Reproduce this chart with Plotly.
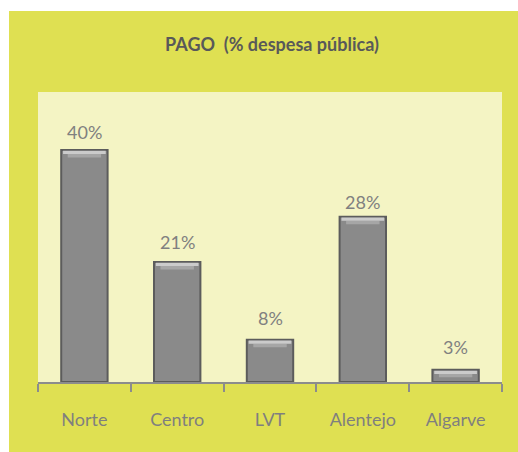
import plotly.graph_objects as go

categories = ["Norte", "Centro", "LVT", "Alentejo", "Algarve"]
label_values = [40, 21, 8, 28, 3]          # data labels (%)
bar_values = [40, 20.7, 7.3, 28.5, 2.1]   # bar heights as drawn in the picture (%)
title_text = "PAGO  (% despesa pública)"

fig = go.Figure()
fig.add_trace(go.Bar(
    x=categories, y=bar_values,
    marker=dict(color="#8a8a8a", line=dict(color="#5c5c5c", width=2)),
    hoverinfo="skip",
))
# bevel highlight on bar tops
fig.add_trace(go.Bar(
    x=categories, y=[0.6] * len(bar_values), base=[v - 1.3 for v in bar_values],
    marker=dict(color="#a6a6a6", line=dict(width=0)),
    width=0.36, hoverinfo="skip",
))
fig.add_trace(go.Bar(
    x=categories, y=[0.55] * len(bar_values), base=[v - 0.7 for v in bar_values],
    marker=dict(color="#cbcbcb", line=dict(width=0)),
    width=0.46, hoverinfo="skip",
))
for c, v in zip(categories, label_values):
    fig.add_annotation(x=c, y=v, text=f"{v}%", showarrow=False, yanchor="bottom",
                       yshift=5, font=dict(family="Lato", size=18, color="#808080"))

L, R, T, B = 38, 16, 92, 70
W, H = 518, 452
pw, ph = W - L - R, H - T - B
# white strips on the left and top of the yellow panel
fig.add_shape(type="rect", xref="paper", yref="paper",
              x0=(-5 - L) / pw, x1=(9 - L) / pw, y0=-1, y1=2,
              fillcolor="white", line=dict(width=0), layer="below")
fig.add_shape(type="rect", xref="paper", yref="paper",
              x0=-1, x1=2, y0=(H - B - 11) / ph, y1=2,
              fillcolor="white", line=dict(width=0), layer="below")

fig.update_layout(
    width=W, height=H,
    margin=dict(l=L, r=R, t=T, b=B),
    paper_bgcolor="#dfe052", plot_bgcolor="#f4f4c4",
    barmode="overlay", bargap=0.5, showlegend=False,
    title=dict(text="<b>" + title_text + "</b>", x=272 / W, xanchor="center",
               y=1 - 45 / H, yanchor="middle",
               font=dict(family="Lato", size=18, color="#595959")),
    xaxis=dict(showgrid=False, showline=True, linecolor="#8c8c8c", linewidth=2,
               ticks="outside", ticklen=8, tickcolor="#8c8c8c", tickwidth=2,
               tickson="boundaries", ticklabelstandoff=20,
               tickfont=dict(family="Lato", size=18, color="#7f7f7f")),
    yaxis=dict(range=[0, 50], showgrid=False, showticklabels=False, zeroline=False,
               showline=False),
)
fig.write_html("out.html", config={"displayModeBar": False},
               post_script="document.body.style.margin='0';")
